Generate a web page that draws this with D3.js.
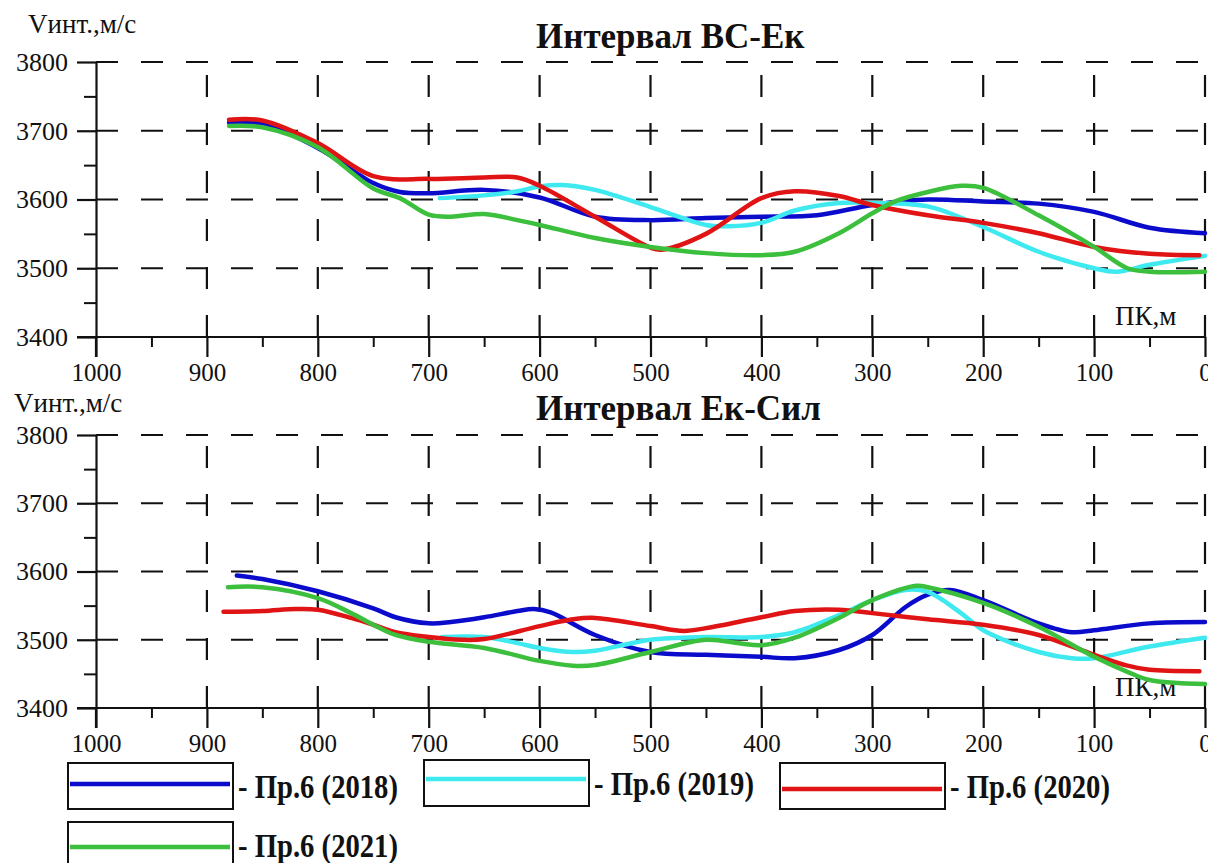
<!DOCTYPE html>
<html><head><meta charset="utf-8">
<script src="https://cdn.jsdelivr.net/npm/d3@7"></script>
<style>
html,body{margin:0;padding:0;background:#fff;overflow:hidden;}
svg{display:block;font-family:"Liberation Serif","Times New Roman",serif;}
</style></head>
<body>
<svg id="c" width="1208" height="863"></svg>
<script>
// ---------- data ----------
const xMajorTicks = [1000,900,800,700,600,500,400,300,200,100,0];
const xMinorTicks = [950,850,750,650,550,450,350,250,150,50];
const yMajorTicks = [3400,3500,3600,3700,3800];
const yMinorTicks = [3450,3550,3650,3750];
const gridY = [3500,3600,3700,3800];
const gridX = [900,800,700,600,500,400,300,200,100,0];

const seriesNames = ["Пр.6 (2018)","Пр.6 (2019)","Пр.6 (2020)","Пр.6 (2021)"];
const seriesColors = ["#0b0bcc","#3eeaf0","#e01414","#3cbf3c"];

// Interval ВС-Ек
const top2018PK = [880,850,800,750,726,700,650,600,550,500,450,400,350,300,250,200,150,100,50,0];
const top2018V  = [3712,3710,3675,3624,3611,3609,3614,3603,3575,3570,3573,3575,3577,3592,3600,3597,3594,3582,3559,3551];
const top2019PK = [690,650,620,600,580,550,500,450,430,400,370,330,300,250,200,150,100,80,50,0];
const top2019V  = [3602,3606,3612,3619,3621,3614,3589,3563,3561,3566,3584,3595,3595,3590,3560,3524,3500,3495,3505,3518];
const top2020PK = [880,850,800,750,700,650,620,600,550,500,490,450,400,370,330,300,250,200,150,100,50,5];
const top2020V  = [3716,3715,3682,3634,3630,3632,3632,3620,3575,3530,3527,3550,3602,3612,3605,3592,3577,3566,3551,3531,3521,3519];
const top2021PK = [880,850,800,750,726,700,680,650,620,600,550,500,450,400,370,330,300,280,250,220,200,150,100,70,50,0];
const top2021V  = [3707,3705,3676,3616,3602,3578,3575,3579,3570,3563,3544,3531,3522,3519,3524,3551,3580,3597,3611,3620,3617,3577,3531,3500,3495,3495];

// Interval Ек-Сил
const bot2018PK = [873,850,800,750,730,700,680,650,620,605,590,550,500,450,400,370,330,300,270,250,230,200,150,120,100,50,0];
const bot2018V  = [3594,3589,3571,3546,3533,3524,3526,3533,3542,3545,3540,3507,3482,3478,3475,3473,3485,3507,3548,3566,3573,3558,3524,3511,3514,3524,3526];
const bot2019PK = [688,650,620,600,570,550,500,450,400,370,330,300,270,250,220,200,150,120,100,50,0];
const bot2019V  = [3504,3504,3495,3488,3482,3484,3500,3504,3504,3511,3536,3558,3573,3570,3539,3514,3482,3473,3473,3490,3503];
const bot2020PK = [885,850,820,800,770,750,730,700,670,650,600,570,550,500,470,450,400,370,330,300,250,200,150,100,70,50,5];
const bot2020V  = [3541,3542,3545,3544,3532,3522,3511,3504,3500,3501,3520,3530,3532,3520,3513,3517,3533,3542,3544,3539,3530,3522,3507,3478,3462,3456,3454];
const bot2021PK = [881,850,800,770,750,730,700,650,600,570,550,500,450,420,400,370,330,300,260,250,200,150,100,70,50,0];
const bot2021V  = [3577,3577,3561,3539,3522,3507,3497,3488,3469,3462,3463,3482,3500,3495,3492,3503,3532,3558,3579,3577,3554,3519,3475,3453,3441,3435];

const panels = [
  {title:"Интервал ВС-Ек", top:62, bottom:337, vx:28, vy:33, ty:48,
   series:[[top2018PK,top2018V],[top2019PK,top2019V],[top2020PK,top2020V],[top2021PK,top2021V]]},
  {title:"Интервал Ек-Сил", top:435, bottom:708, vx:14, vy:412, ty:420,
   series:[[bot2018PK,bot2018V],[bot2019PK,bot2019V],[bot2020PK,bot2020V],[bot2021PK,bot2021V]]}
];

// ---------- drawing ----------
const svg = d3.select("#c");
const x = d3.scaleLinear().domain([1000,0]).range([96,1205]);

panels.forEach((p,pi)=>{
  const y = d3.scaleLinear().domain([3400,3800]).range([p.bottom,p.top]);
  const g = svg.append("g");

  // horizontal dashed grid
  g.selectAll("line.hg").data(gridY).join("line")
    .attr("x1",x(1000)).attr("x2",1208)
    .attr("y1",d=>y(d)).attr("y2",d=>y(d))
    .attr("stroke","#111").attr("stroke-width",2.2)
    .attr("stroke-dasharray","22,23");
  // vertical dashed grid (drawn from bottom upwards)
  g.selectAll("line.vg").data(gridX).join("line")
    .attr("x1",d=>x(d)).attr("x2",d=>x(d))
    .attr("y1",y(3400)).attr("y2",y(3800))
    .attr("stroke","#111").attr("stroke-width",2.2)
    .attr("stroke-dasharray","22,26");

  // x axis major
  const xa = g.append("g").attr("transform",`translate(0,${y(3400)})`)
    .call(d3.axisBottom(x).tickValues(xMajorTicks).tickFormat(d3.format("d"))
      .tickSize(20).tickSizeOuter(0).tickPadding(6));
  xa.attr("font-family","Liberation Serif, serif");
  xa.select(".domain").attr("d",`M77,0H1205`).attr("stroke-width",2.2).attr("stroke","#111");
  xa.selectAll(".tick line").attr("stroke-width",2.2).attr("stroke","#111");
  xa.selectAll(".tick text").attr("font-size",25).attr("fill","#111");
  // x axis minor
  const xm = g.append("g").attr("transform",`translate(0,${y(3400)})`)
    .call(d3.axisBottom(x).tickValues(xMinorTicks).tickFormat("").tickSize(10).tickSizeOuter(0));
  xm.select(".domain").remove();
  xm.selectAll(".tick line").attr("stroke-width",2).attr("stroke","#111");

  // y axis major
  const ya = g.append("g").attr("transform",`translate(${x(1000)},0)`)
    .call(d3.axisLeft(y).tickValues(yMajorTicks).tickFormat(d3.format("d"))
      .tickSize(19).tickSizeOuter(0).tickPadding(9));
  ya.attr("font-family","Liberation Serif, serif");
  ya.select(".domain").attr("stroke-width",2.2).attr("stroke","#111");
  ya.selectAll(".tick line").attr("stroke-width",2.2).attr("stroke","#111");
  ya.selectAll(".tick text").attr("font-size",26).attr("fill","#111");
  const ym = g.append("g").attr("transform",`translate(${x(1000)},0)`)
    .call(d3.axisLeft(y).tickValues(yMinorTicks).tickFormat("").tickSize(12).tickSizeOuter(0));
  ym.select(".domain").remove();
  ym.selectAll(".tick line").attr("stroke-width",2).attr("stroke","#111");

  // extension of the y axis below the x axis
  g.append("line").attr("x1",x(1000)).attr("x2",x(1000))
    .attr("y1",y(3400)).attr("y2",y(3400)+20)
    .attr("stroke","#111").attr("stroke-width",2.2);

  // labels
  g.append("text").attr("x",p.vx).attr("y",p.vy)
    .attr("font-size",27).attr("fill","#111").text("Vинт.,м/с");
  g.append("text").attr("x",536).attr("y",p.ty)
    .attr("font-size",35).attr("font-weight","bold").attr("fill","#111").text(p.title);
  g.append("text").attr("x",1115).attr("y",y(3400)-12)
    .attr("font-size",27).attr("fill","#111").text("ПК,м");

  // curves
  const line = d3.line().x(d=>x(d[0])).y(d=>y(d[1])).curve(d3.curveCatmullRom.alpha(0.5));
  [0,1,2,3].forEach(i=>{
    const [pk,v] = p.series[i];
    const pts = pk.map((k,j)=>[k,v[j]]);
    g.append("path").attr("d",line(pts)).attr("fill","none")
      .attr("stroke",seriesColors[i]).attr("stroke-width",4.5)
      .attr("stroke-linecap","round").attr("stroke-linejoin","round");
  });
});

// ---------- legend ----------
const legendPos = [
  {bx:68, by:763, ly:784},
  {bx:424, by:760, ly:779},
  {bx:780, by:763, ly:789},
  {bx:68, by:822, ly:847}
];
const lg = svg.append("g");
seriesNames.forEach((n,i)=>{
  const p = legendPos[i];
  lg.append("rect").attr("x",p.bx).attr("y",p.by).attr("width",165).attr("height",46)
    .attr("fill","#fff").attr("stroke","#111").attr("stroke-width",2);
  lg.append("line").attr("x1",p.bx+2).attr("x2",p.bx+162).attr("y1",p.ly).attr("y2",p.ly)
    .attr("stroke",seriesColors[i]).attr("stroke-width",4.5);
  lg.append("text").attr("x",p.bx+170).attr("y",p.by+35)
    .attr("font-size",33).attr("font-weight","bold").attr("fill","#111")
    .attr("textLength",160).attr("lengthAdjust","spacingAndGlyphs")
    .text("- " + n);
});
</script>
</body></html>
